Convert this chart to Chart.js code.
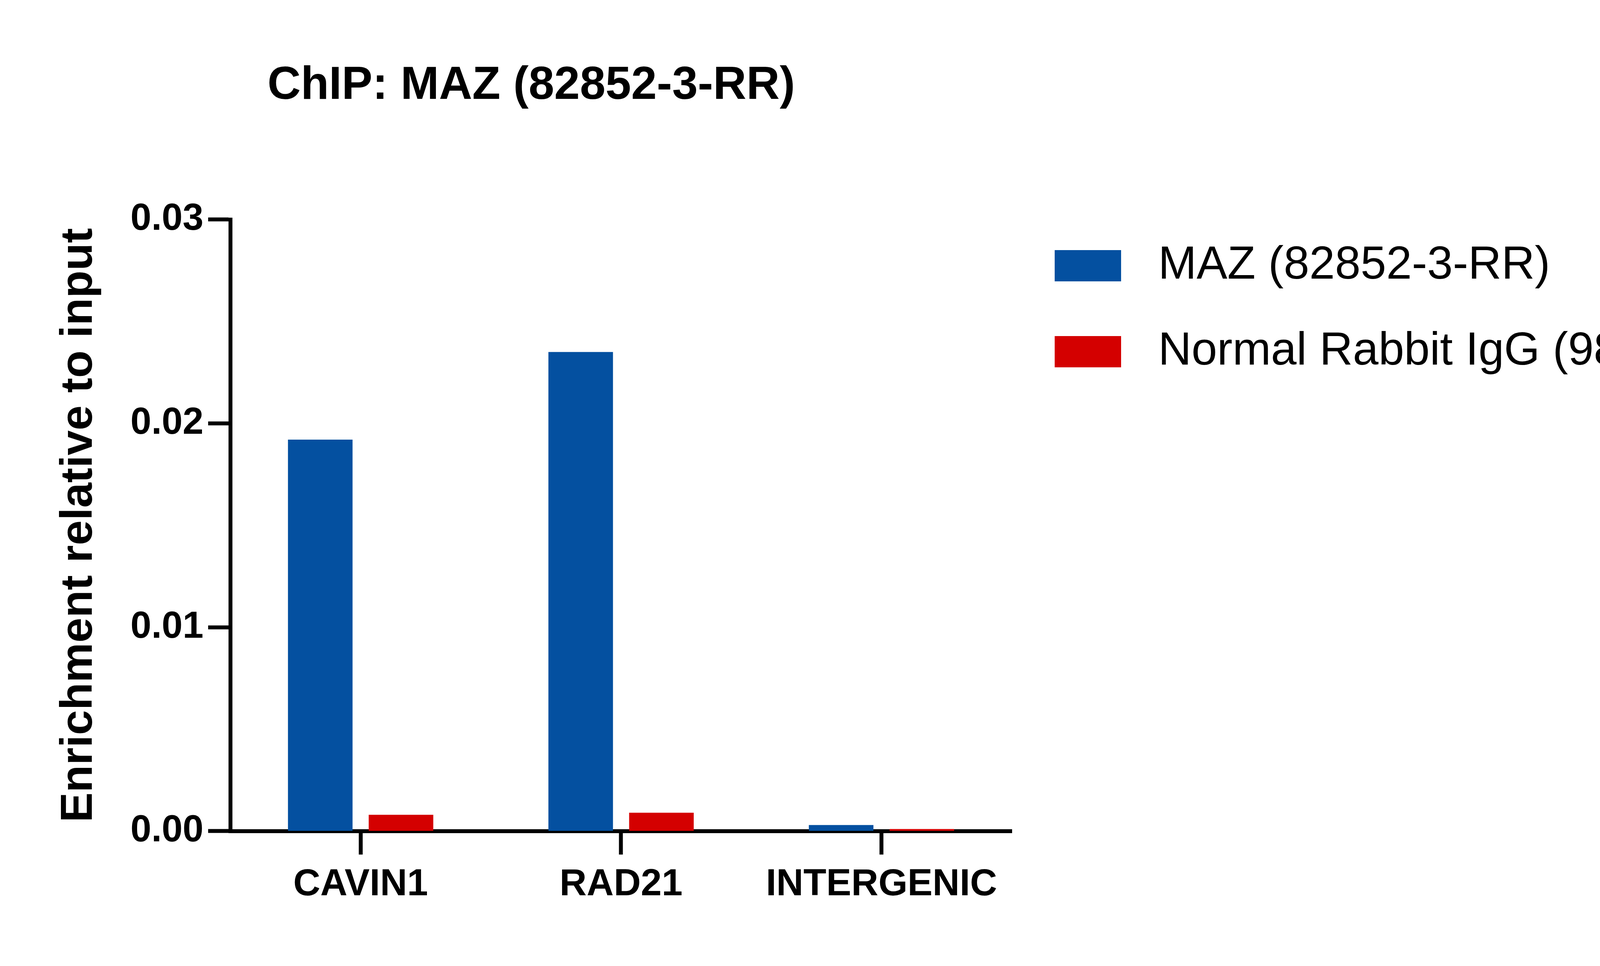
<!DOCTYPE html>
<html><head><meta charset="utf-8">
<script src="https://cdn.jsdelivr.net/npm/chart.js@4"></script>
<style>html,body{margin:0;padding:0;background:#fff;overflow:hidden}</style>
</head><body><canvas id="c" width="5000" height="2472" style="width:5000px;height:2472px"></canvas>
<script>
const categories = ['CAVIN1','RAD21','INTERGENIC'];
const mazValues = [0.0192, 0.0235, 0.0003];
const iggValues = [0.0008, 0.0009, 0.0001];
const yTicks = [0, 0.01, 0.02, 0.03];
const F = 'Arial, "Liberation Sans", sans-serif';
const sideLegend = {
  id: 'sideLegend',
  afterDraw(chart) {
    const ctx = chart.ctx;
    ctx.save();
    ctx.font = '118px ' + F;
    ctx.textBaseline = 'middle';
    chart.data.datasets.forEach((ds, i) => {
      const y = 680 + i * 220;
      ctx.fillStyle = ds.backgroundColor;
      ctx.fillRect(2700, y - 40, 170, 80);
      ctx.fillStyle = '#000';
      ctx.fillText(ds.label, 2965, y);
    });
    ctx.restore();
  }
};
new Chart(document.getElementById('c'), {
  type: 'bar',
  data: { labels: categories, datasets: [
    { label: 'MAZ (82852-3-RR)', data: mazValues, backgroundColor: '#0450A0' },
    { label: 'Normal Rabbit IgG (98136-1-RR)', data: iggValues, backgroundColor: '#D40000' }
  ]},
  plugins: [sideLegend],
  options: {
    responsive: false, animation: false, devicePixelRatio: 1,
    layout: { padding: { left: 130, right: 2410, top: 0, bottom: 130 } },
    datasets: { bar: { categoryPercentage: 0.62, barPercentage: 0.8 } },
    plugins: {
      title: { display: true, text: 'ChIP: MAZ (82852-3-RR)', color: '#000', align: 'center',
        font: { family: F, size: 118, weight: 'bold' }, padding: { top: 150, bottom: 270 } },
      legend: { display: false },
      tooltip: { enabled: false }
    },
    scales: {
      x: {
        grid: { display: true, drawOnChartArea: false, offset: false, tickLength: 60, tickWidth: 10, tickColor: '#000' },
        border: { display: true, width: 10, color: '#000' },
        ticks: { color: '#000', padding: 20, font: { family: F, size: 96, weight: 'bold' }, maxRotation: 0 }
      },
      y: {
        min: 0, max: 0.03,
        afterBuildTicks: s => { s.ticks = yTicks.map(v => ({ value: v })); },
        grid: { display: true, drawOnChartArea: false, tickLength: 57, tickWidth: 10, tickColor: '#000' },
        border: { display: true, width: 10, color: '#000' },
        ticks: { color: '#000', padding: 12, font: { family: F, size: 96, weight: 'bold' },
          callback: v => Number(v).toFixed(2) },
        title: { display: true, text: 'Enrichment relative to input', color: '#000',
          font: { family: F, size: 115, weight: 'bold' }, padding: { bottom: 50 } }
      }
    }
  }
});
</script></body></html>
